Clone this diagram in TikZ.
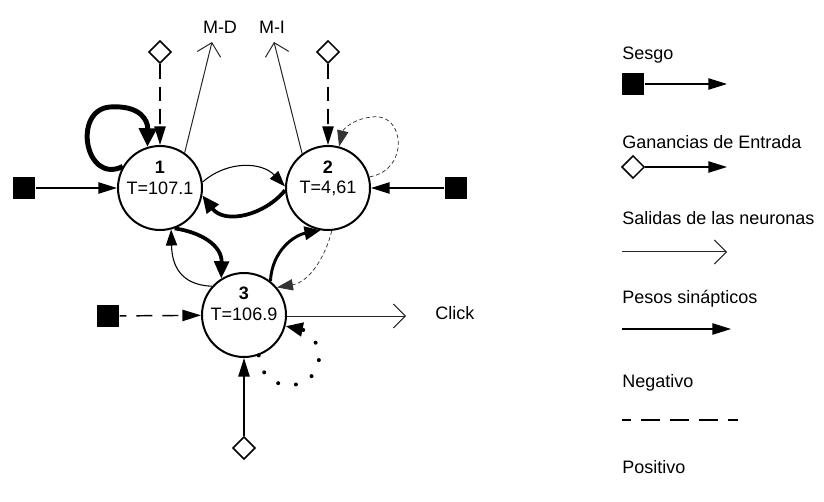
\documentclass[tikz,border=0pt]{standalone}
\usepackage{fontspec}
\setmainfont{Liberation Sans}
\usetikzlibrary{arrows.meta,shapes.geometric}
\begin{document}
\begin{tikzpicture}[x=0.75pt,y=-0.75pt,
  neuron/.style={circle,draw,line width=1.5pt,minimum size=63pt,inner sep=0pt},
  bias/.style={fill=black,minimum size=17pt,inner sep=0pt},
  gain/.style={diamond,draw,line width=1.1pt,fill=white,minimum width=17pt,minimum height=17pt,inner sep=0pt},
  txt/.style={font=\fontsize{13.5pt}{16pt}\selectfont,inner sep=0pt},
  btxt/.style={font=\fontsize{13.5pt}{16pt}\selectfont\bfseries,inner sep=0pt},
  syn/.style={line width=1.1pt,-{Triangle[length=14pt,width=8.5pt]}},
  outp/.style={line width=0.75pt,draw=black!85,-{Straight Barb[length=9pt,width=18pt]}},
  neg/.style={dash pattern=on 11pt off 6pt},
  negthin/.style={line width=0.55pt,draw=black!80,dash pattern=on 3pt off 2pt},
  ]
\useasboundingbox (0,0) rectangle (824,502);
% neurons
\node[neuron] (n1) at (160,188) {};
\node[neuron] (n2) at (328,188) {};
\node[neuron] (n3) at (244,315) {};
\node[btxt] (n1a) at (160,167) {1};
\node[txt]  (n1b) at (160,188) {T=107.1};
\node[btxt] (n2a) at (328,167) {2};
\node[txt]  (n2b) at (328,188) {T=4,61};
\node[btxt] (n3a) at (244,293) {3};
\node[txt]  (n3b) at (244,314) {T=106.9};
% biases
\node[bias] (b1) at (24,188) {};
\node[bias] (b2) at (456,188) {};
\node[bias] (b3) at (108,316) {};
\draw[syn] (b1) -- (n1);
\draw[syn] (b2) -- (n2);
\draw[syn,dash pattern=on 12pt off 7.5pt,dash phase=7pt] (b3) -- (n3);
% gains
\node[gain] (g1) at (160,52) {};
\node[gain] (g2) at (328,52) {};
\node[gain] (g3) at (244,448) {};
\draw[syn,neg] (g1) -- (n1);
\draw[syn,neg] (g2) -- (n2);
\draw[syn] (g3) -- (n3);
% outputs
\node[txt] (md) at (220,27) {M-D};
\node[txt] (mi) at (272,27) {M-I};
\node[txt,anchor=west] (click) at (435,313) {Click};
\coordinate (mdtip) at (212,42);
\coordinate (mitip) at (274,42);
\coordinate (cltip) at (406,316);
\draw[outp] (n1.55) -- (mdtip);
\draw[outp] (n2.127) -- (mitip);
\draw[outp] (n3.east |- cltip) -- (cltip);
% synaptic connections
\draw[line width=3.7pt,-{Triangle[length=14pt,width=13pt]}]
  (n1.150) .. controls (85,185) and (72,110) .. (110,107)
  .. controls (140,105) and (148,120) .. (n1.107);
\draw[negthin,-{Triangle[length=12pt,width=8.5pt]}]
  (n2.15) .. controls (410,170) and (405,112) .. (372,117)
  .. controls (352,119) and (343,130) .. (n2.75);
\draw[line width=0.8pt,-{Triangle[length=12pt,width=8.5pt]}]
  (n1.8) .. controls (228,160) and (262,162) .. (n2.178);
\draw[line width=2.8pt,-{Triangle[length=13pt,width=11pt]}]
  (n2.183) .. controls (265,215) and (225,225) .. (n1.-10);
\draw[line width=2.8pt,-{Triangle[length=13pt,width=11pt]}]
  (n1.-70) .. controls (200,232) and (222,245) .. (n3.122);
\draw[line width=0.8pt,-{Triangle[length=12pt,width=8.5pt]}]
  (n3.138) .. controls (180,285) and (172,265) .. (n1.-75);
\draw[line width=2.2pt,-{Triangle[length=12pt,width=10pt]}]
  (n3.52) .. controls (272,250) and (295,235) .. (n2.-100);
\draw[negthin,-{Triangle[length=12pt,width=8.5pt]}]
  (n2.-85) .. controls (326,255) and (310,282) .. (n3.40);
\draw[line width=3pt,line cap=round,dash pattern=on 0pt off 13.5pt,-{Triangle[length=13pt,width=10pt]}]
  (n3.-70) .. controls (262,400) and (328,392) .. (318,348)
  .. controls (315,338) and (305,330) .. (n3.-15);
% legend
\node[txt,anchor=west] (l1) at (622,55) {Sesgo};
\node[bias] (lb) at (633,84) {};
\coordinate (lbe) at (727,84);
\draw[syn] (lb) -- (lbe);
\node[txt,anchor=west] (l2) at (622,142) {Ganancias de Entrada};
\node[gain] (lg) at (633,167) {};
\coordinate (lge) at (727,167);
\draw[syn] (lg) -- (lge);
\node[txt,anchor=west] (l3) at (622,218) {Salidas de las neuronas};
\coordinate (lo1) at (622,252);
\coordinate (lo2) at (727,252);
\draw[outp] (lo1) -- (lo2);
\node[txt,anchor=west] (l4) at (622,299) {Pesos sinápticos};
\coordinate (lp1) at (622,329);
\coordinate (lp2) at (731,329);
\draw[syn] (lp1) -- (lp2);
\node[txt,anchor=west] (l5) at (622,383) {Negativo};
\coordinate (ln1) at (622,420);
\coordinate (ln2) at (738,420);
\draw[line width=1.4pt,dash pattern=on 14.25pt off 7.5pt,dash phase=7.5pt] (ln1) -- (ln2);
\node[txt,anchor=west] (l6) at (622,467) {Positivo};
\end{tikzpicture}
\end{document}
